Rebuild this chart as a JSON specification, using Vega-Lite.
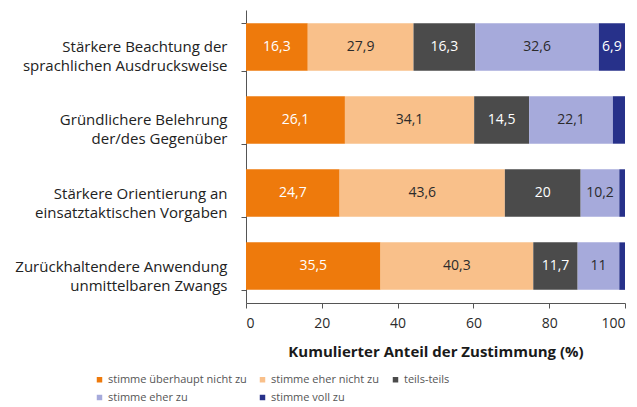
{
  "$schema": "https://vega.github.io/schema/vega-lite/v6.json",
  "width": 379,
  "height": 293,
  "autosize": {"type": "none"},
  "padding": {"left": 246, "top": 10, "right": 12, "bottom": 104},
  "background": "white",
  "config": {"font": "Open Sans", "view": {"stroke": null}},
  "data": {"values": [
    {"item": "Stärkere Beachtung der|sprachlichen Ausdrucksweise", "cat": "stimme überhaupt nicht zu", "o": 1, "value": 16.3},
    {"item": "Stärkere Beachtung der|sprachlichen Ausdrucksweise", "cat": "stimme eher nicht zu", "o": 2, "value": 27.9},
    {"item": "Stärkere Beachtung der|sprachlichen Ausdrucksweise", "cat": "teils-teils", "o": 3, "value": 16.3},
    {"item": "Stärkere Beachtung der|sprachlichen Ausdrucksweise", "cat": "stimme eher zu", "o": 4, "value": 32.6},
    {"item": "Stärkere Beachtung der|sprachlichen Ausdrucksweise", "cat": "stimme voll zu", "o": 5, "value": 6.9},
    {"item": "Gründlichere Belehrung|der/des Gegenüber", "cat": "stimme überhaupt nicht zu", "o": 1, "value": 26.1},
    {"item": "Gründlichere Belehrung|der/des Gegenüber", "cat": "stimme eher nicht zu", "o": 2, "value": 34.1},
    {"item": "Gründlichere Belehrung|der/des Gegenüber", "cat": "teils-teils", "o": 3, "value": 14.5},
    {"item": "Gründlichere Belehrung|der/des Gegenüber", "cat": "stimme eher zu", "o": 4, "value": 22.1},
    {"item": "Gründlichere Belehrung|der/des Gegenüber", "cat": "stimme voll zu", "o": 5, "value": 3.2},
    {"item": "Stärkere Orientierung an|einsatztaktischen Vorgaben", "cat": "stimme überhaupt nicht zu", "o": 1, "value": 24.7},
    {"item": "Stärkere Orientierung an|einsatztaktischen Vorgaben", "cat": "stimme eher nicht zu", "o": 2, "value": 43.6},
    {"item": "Stärkere Orientierung an|einsatztaktischen Vorgaben", "cat": "teils-teils", "o": 3, "value": 20},
    {"item": "Stärkere Orientierung an|einsatztaktischen Vorgaben", "cat": "stimme eher zu", "o": 4, "value": 10.2},
    {"item": "Stärkere Orientierung an|einsatztaktischen Vorgaben", "cat": "stimme voll zu", "o": 5, "value": 1.5},
    {"item": "Zurückhaltendere Anwendung|unmittelbaren Zwangs", "cat": "stimme überhaupt nicht zu", "o": 1, "value": 35.5},
    {"item": "Zurückhaltendere Anwendung|unmittelbaren Zwangs", "cat": "stimme eher nicht zu", "o": 2, "value": 40.3},
    {"item": "Zurückhaltendere Anwendung|unmittelbaren Zwangs", "cat": "teils-teils", "o": 3, "value": 11.7},
    {"item": "Zurückhaltendere Anwendung|unmittelbaren Zwangs", "cat": "stimme eher zu", "o": 4, "value": 11},
    {"item": "Zurückhaltendere Anwendung|unmittelbaren Zwangs", "cat": "stimme voll zu", "o": 5, "value": 1.5}
  ]},
  "transform": [
    {"stack": "value", "groupby": ["item"], "sort": [{"field": "o"}], "as": ["x0", "x1"]},
    {"calculate": "(datum.x0 + datum.x1) / 2", "as": "xm"},
    {"calculate": "replace(toString(datum.value), '.', ',')", "as": "lbl"}
  ],
  "encoding": {
    "y": {
      "field": "item", "type": "nominal", "sort": null,
      "scale": {"paddingInner": 0.35, "paddingOuter": 0.18},
      "axis": {
        "title": null, "labelExpr": "split(datum.label, '|')",
        "labelFontSize": 15, "labelColor": "#222", "labelPadding": 14,
        "labelLineHeight": 19, "labelLimit": 300,
        "domainColor": "#555", "tickColor": "#555", "tickBand": "extent", "tickSize": 5
      }
    }
  },
  "layer": [
    {
      "mark": {"type": "bar"},
      "encoding": {
        "x": {
          "field": "x0", "type": "quantitative",
          "scale": {"domain": [0, 100], "nice": false},
          "axis": {
            "title": "Kumulierter Anteil der Zustimmung (%)",
            "titleFontSize": 15, "titleFontWeight": "bold", "titleColor": "#1a1a1a", "titlePadding": 14,
            "values": [0, 20, 40, 60, 80, 100], "grid": false,
            "labelFontSize": 14, "labelColor": "#2b2b2b", "labelPadding": 8,
            "domainColor": "#555", "tickColor": "#555", "tickSize": 5
          }
        },
        "x2": {"field": "x1"},
        "color": {
          "field": "cat", "type": "nominal",
          "scale": {
            "domain": ["stimme überhaupt nicht zu", "stimme eher nicht zu", "teils-teils", "stimme eher zu", "stimme voll zu"],
            "range": ["#ee7a0c", "#f9c08a", "#4b4b4b", "#a6aadb", "#27318a"]
          },
          "legend": {
            "title": null, "orient": "none", "legendX": -152, "legendY": 364,
            "columns": 3, "direction": "horizontal",
            "symbolType": "square", "symbolSize": 30, "labelFontSize": 11, "labelColor": "#555",
            "columnPadding": 10, "rowPadding": 6, "labelOffset": 3
          }
        }
      }
    },
    {
      "transform": [{"filter": "datum.value > 5"}],
      "mark": {"type": "text", "fontSize": 14},
      "encoding": {
        "x": {"field": "xm", "type": "quantitative"},
        "text": {"field": "lbl"},
        "color": {
          "condition": {"test": "datum.cat === 'stimme eher nicht zu' || datum.cat === 'stimme eher zu'", "value": "#2b2b2b"},
          "value": "#ffffff"
        }
      }
    }
  ]
}
